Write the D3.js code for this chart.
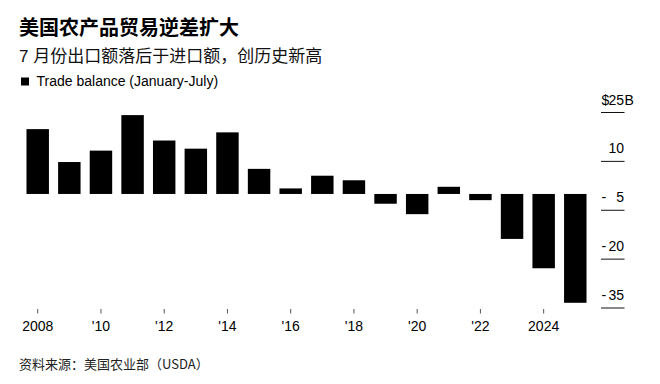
<!DOCTYPE html>
<html>
<head>
<meta charset="utf-8">
<script src="https://cdn.jsdelivr.net/npm/d3@7"></script>
<style>
  body { margin: 0; background: #fff; }
  svg { display: block; font-family: "Liberation Sans", "Noto Sans CJK SC", sans-serif; }
</style>
</head>
<body>
<div id="chart"></div>
<script>
// Jan-July US agricultural trade balance, billions of dollars
const years = [2008, 2009, 2010, 2011, 2012, 2013, 2014, 2015, 2016,
               2017, 2018, 2019, 2020, 2021, 2022, 2023, 2024, 2025];
const balance = [19.9, 9.8, 13.3, 24.2, 16.4, 13.9, 18.9, 7.7, 1.7,
                 5.6, 4.2, -3.0, -6.2, 2.2, -1.9, -13.8, -22.8, -33.4];
const yTicks = [25, 10, -5, -20, -35];
const xTickYears = [2008, 2010, 2012, 2014, 2016, 2018, 2020, 2022, 2024];
const xTickLabels = ["2008", "'10", "'12", "'14", "'16", "'18", "'20", "'22", "2024"];

const width = 660;
const height = 384;

const data = years.map((y, i) => ({ year: y, value: balance[i] }));

const svg = d3.select("#chart")
    .append("svg")
    .attr("width", width)
    .attr("height", height);

// scales
const xScale = d3.scaleBand()
    .domain(years)
    .range([21.9, 591.1])
    .paddingInner(0.29)
    .paddingOuter(0.145);

const yScale = d3.scaleLinear()
    .domain([-35, 25])
    .range([308, 112.5]);

// titles
svg.append("text")
    .attr("x", 19).attr("y", 35)
    .style("font-family", "'Noto Sans CJK SC', sans-serif")
    .style("font-size", "20px")
    .style("font-weight", "bold")
    .attr("fill", "#000")
    .text("美国农产品贸易逆差扩大");

svg.append("text")
    .attr("x", 19).attr("y", 62)
    .style("font-size", "17px")
    .attr("fill", "#111")
    .text("7 月份出口额落后于进口额，创历史新高");

// legend
svg.append("rect")
    .attr("x", 21).attr("y", 77.5)
    .attr("width", 8).attr("height", 8)
    .attr("fill", "#000");

svg.append("text")
    .attr("x", 36.5).attr("y", 86)
    .style("font-size", "14px")
    .attr("fill", "#000")
    .text("Trade balance (January-July)");

// bars
svg.append("g")
    .selectAll("rect")
    .data(data)
    .join("rect")
    .attr("x", d => xScale(d.year))
    .attr("width", xScale.bandwidth())
    .attr("y", d => yScale(Math.max(0, d.value)))
    .attr("height", d => Math.abs(yScale(d.value) - yScale(0)))
    .attr("fill", "#000");

// y axis on the right: short rules with labels above
const yAxis = svg.append("g").attr("class", "y-axis");
const yt = yAxis.selectAll("g")
    .data(yTicks)
    .join("g")
    .attr("transform", d => `translate(0, ${yScale(d)})`);

yt.append("line")
    .attr("x1", 601).attr("x2", 624.5)
    .attr("stroke", "#111")
    .attr("stroke-width", 1);

yt.append("text")
    .attr("x", 624).attr("y", -8)
    .attr("text-anchor", "end")
    .style("font-size", "14px")
    .attr("fill", "#000")
    .text(d => Math.abs(d));

yt.filter(d => d < 0 || d === 25)
    .append("text")
    .attr("x", 601.5).attr("y", -8)
    .style("font-size", "14px")
    .attr("fill", "#000")
    .text(d => d === 25 ? "$" : "-");

yt.filter(d => d === 25)
    .append("text")
    .attr("x", 624.5).attr("y", -8)
    .style("font-size", "14px")
    .attr("fill", "#000")
    .text("B");

// x axis: small ticks every two years, no domain line
const xAxis = svg.append("g").attr("class", "x-axis");
const xt = xAxis.selectAll("g")
    .data(xTickYears)
    .join("g")
    .attr("transform", d => `translate(${xScale(d) + xScale.bandwidth() / 2}, 0)`);

xt.append("line")
    .attr("y1", 309).attr("y2", 313.5)
    .attr("stroke", "#555")
    .attr("stroke-width", 1);

xt.append("text")
    .attr("y", 331)
    .attr("text-anchor", "middle")
    .style("font-size", "14px")
    .attr("fill", "#000")
    .text((d, i) => xTickLabels[i]);

// source
svg.append("text")
    .attr("x", 19).attr("y", 369)
    .style("font-family", "'Noto Sans CJK SC', sans-serif")
    .style("font-size", "13px")
    .attr("fill", "#222")
    .text("资料来源：美国农业部（USDA）");
</script>
</body>
</html>
